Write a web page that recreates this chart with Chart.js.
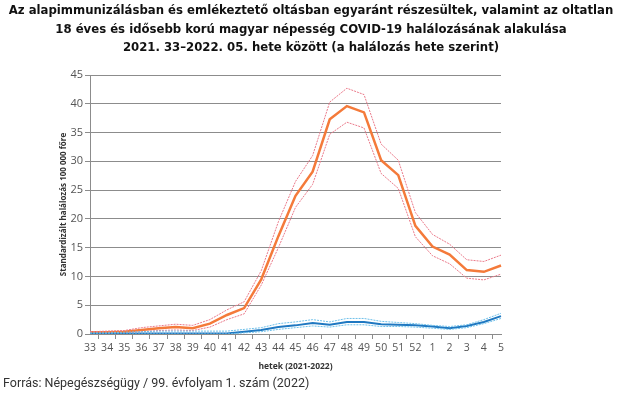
<!DOCTYPE html>
<html>
<head>
<meta charset="utf-8">
<script src="https://cdn.jsdelivr.net/npm/chart.js@4"></script>
<style>
  html, body { margin: 0; padding: 0; background: #fff; }
  #wrap { width: 622px; height: 396px; position: relative; overflow: hidden; }
  #chart { position: absolute; left: 0; top: 0; }
  #title {
    position: absolute; left: 0; top: 1px; width: 622px; text-align: center;
    font-family: 'DejaVu Sans Condensed', 'DejaVu Sans', sans-serif; font-weight: bold;
    font-size: 13px; line-height: 18.5px; color: #111;
  }
  #source {
    position: absolute; left: 3px; top: 375px;
    font-family: Roboto, sans-serif; font-size: 12.5px; color: #333;
  }
</style>
</head>
<body>
<div id="wrap">
  <canvas id="chart" width="622" height="396"></canvas>
  <div id="title"></div>
  <div id="source">Forrás: Népegészségügy / 99. évfolyam 1. szám (2022)</div>
</div>
<script>
// weeks 2021/33 .. 2022/05
const weeks = ['33', '34', '35', '36', '37', '38', '39', '40', '41', '42', '43', '44', '45',
  '46', '47', '48', '49', '50', '51', '52', '1', '2', '3', '4', '5'];
const yTicks = [0, 5, 10, 15, 20, 25, 30, 35, 40, 45];

// unvaccinated (orange) with confidence band
const orangeMid = [0.3, 0.3, 0.4, 0.7, 1.0, 1.2, 1.0, 1.8, 3.3, 4.5, 9.5, 17.0, 24.0,
  28.2, 37.3, 39.6, 38.5, 30.2, 27.6, 18.8, 15.2, 13.8, 11.1, 10.8, 11.9];
const orangeHigh = [0.4, 0.5, 0.6, 1.1, 1.4, 1.7, 1.5, 2.5, 4.2, 5.6, 11.0, 19.5, 26.5,
  31.0, 40.3, 42.7, 41.6, 33.0, 30.2, 21.1, 17.3, 15.6, 12.9, 12.6, 13.7];
const orangeLow = [0.1, 0.1, 0.2, 0.4, 0.6, 0.7, 0.6, 1.2, 2.5, 3.5, 8.5, 15.0, 22.0,
  26.0, 34.7, 36.8, 35.8, 27.9, 25.3, 16.9, 13.6, 12.2, 9.7, 9.4, 10.4];

// boosted (blue) with confidence band
const blueMid = [0.05, 0.05, 0.05, 0.1, 0.1, 0.1, 0.1, 0.1, 0.1, 0.4, 0.7, 1.2, 1.5,
  1.9, 1.6, 2.1, 2.1, 1.7, 1.6, 1.5, 1.3, 1.0, 1.4, 2.1, 3.1];
const blueHigh = [0.2, 0.2, 0.3, 0.4, 0.5, 0.5, 0.5, 0.5, 0.5, 0.8, 1.1, 1.8, 2.1,
  2.5, 2.1, 2.7, 2.7, 2.2, 2.0, 1.8, 1.5, 1.3, 1.6, 2.5, 3.6];
const blueLow = [0, 0, 0, 0, 0, 0, 0, 0, 0, 0.2, 0.4, 0.8, 1.1,
  1.4, 1.2, 1.6, 1.6, 1.3, 1.3, 1.2, 1.0, 0.8, 1.1, 1.8, 2.7];

const titleLines = [
  'Az alapimmunizálásban és emlékeztető oltásban egyaránt részesültek, valamint az oltatlan',
  '18 éves és idősebb korú magyar népesség COVID-19 halálozásának alakulása',
  '2021. 33–2022. 05. hete között (a halálozás hete szerint)'
];

document.getElementById('title').innerHTML = titleLines.join('<br>');

const gridColor = '#8c8c8c';
const tickColor = '#555';

function band(data, color) {
  return { data, borderColor: color, borderWidth: 1, borderDash: [2, 1], pointRadius: 0, tension: 0, fill: false };
}

new Chart(document.getElementById('chart'), {
  type: 'line',
  data: {
    labels: weeks,
    datasets: [
      band(blueHigh, '#6fc0ea'),
      band(blueLow, '#6fc0ea'),
      { data: blueMid, borderColor: '#1f78c1', borderWidth: 2, pointRadius: 0, fill: false },
      band(orangeHigh, '#ea7a8a'),
      band(orangeLow, '#ea7a8a'),
      { data: orangeMid, borderColor: '#f47a3a', borderWidth: 2.5, pointRadius: 0, fill: false },
    ],
  },
  options: {
    responsive: false,
    animation: false,
    layout: { padding: { left: 2, right: 121, top: 75, bottom: 24 } },
    plugins: {
      legend: { display: false },
      tooltip: { enabled: false },
    },
    scales: {
      x: {
        afterFit: (scale) => { scale.height = 38; },
        grid: { display: true, drawOnChartArea: false, offset: true, tickLength: 5, color: gridColor },
        border: { color: gridColor },
        ticks: { color: tickColor, font: { family: "'Open Sans', sans-serif", size: 10.5 }, maxRotation: 0, autoSkip: false, padding: 3 },
        title: { display: true, text: 'hetek (2021-2022)', color: '#333', font: { family: "'Open Sans', sans-serif", size: 8.5, weight: 'bold' }, padding: { top: 7, bottom: 0 } },
      },
      y: {
        min: 0,
        max: 45,
        afterFit: (scale) => { scale.width = 88; },
        afterBuildTicks: (scale) => { scale.ticks = yTicks.map((v) => ({ value: v })); },
        grid: { color: gridColor, tickLength: 5 },
        border: { color: gridColor },
        ticks: { color: tickColor, font: { family: "'Open Sans', sans-serif", size: 11 }, padding: 2 },
        title: { display: true, text: 'Standardizált halálozás 100 000 főre', color: '#333', font: { family: "'Open Sans', sans-serif", size: 8, weight: 'bold' }, padding: { top: 57, bottom: 0 } },
      },
    },
  },
});
</script>
</body>
</html>
